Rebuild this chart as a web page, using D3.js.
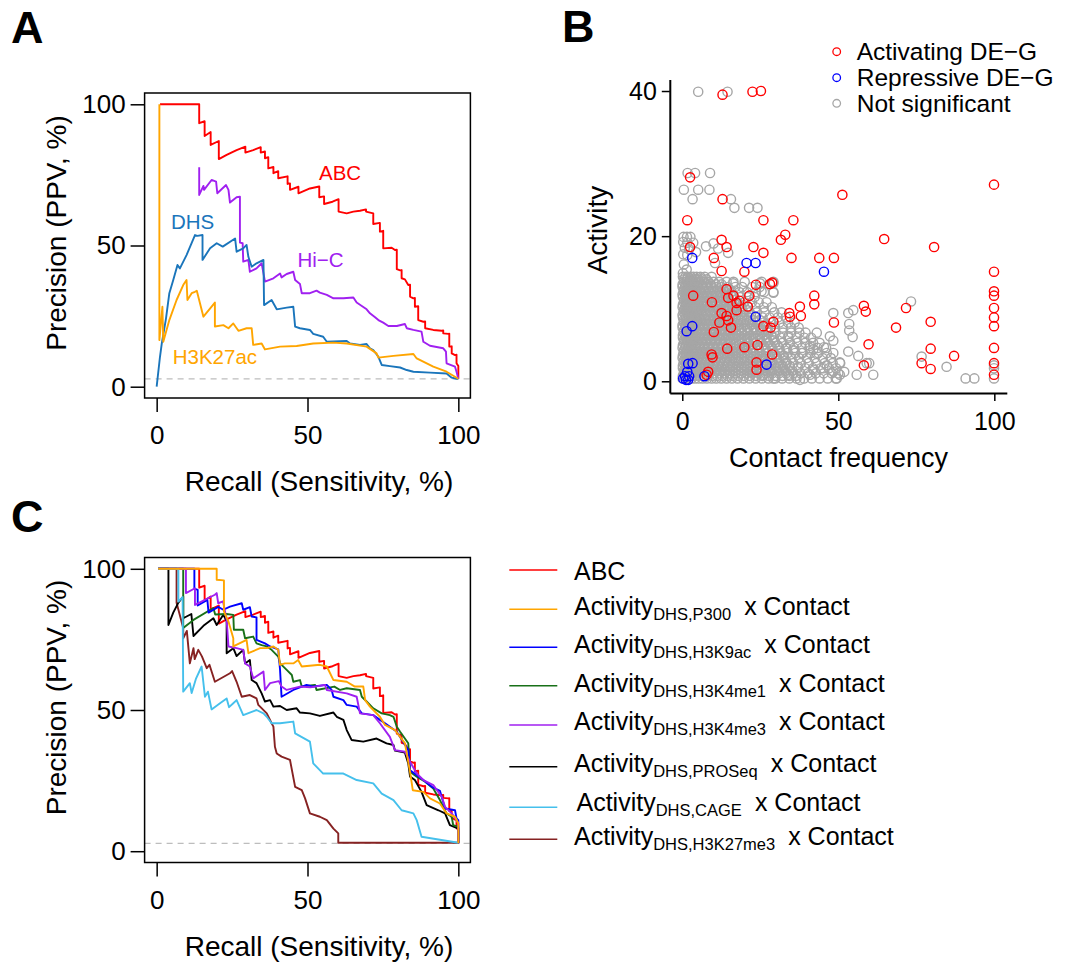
<!DOCTYPE html>
<html>
<head>
<meta charset="utf-8">
<script src="https://cdn.jsdelivr.net/npm/d3@7"></script>
<style>
  body { margin: 0; background: #fff; }
  svg { display: block; }
</style>
</head>
<body>
<svg id="fig" width="1073" height="964"></svg>
<script>
// ---------- Panel A: precision-recall curves (recall %, precision %) ----------
const abcCurve = [[1.1,100],[14.1,100],[14.1,93.3],[15.9,94.0],[15.9,88.8],[17.9,90.2],[17.9,85.6],[20.6,87.0],[20.6,80.6],[23.2,82.1],[26.5,83.8],[29.4,85.0],[29.4,82.9],[32.0,83.8],[34.5,84.8],[34.5,82.9],[35.9,83.3],[35.9,80.9],[37.0,81.3],[37.0,77.3],[38.7,77.8],[38.7,75.6],[40.3,76.3],[40.3,73.8],[43.4,74.5],[43.4,71.8],[44.2,72.0],[44.2,69.7],[47.0,70.8],[47.0,68.5],[50.8,70.2],[53.9,70.9],[53.9,67.1],[55.5,67.4],[55.5,64.7],[58.3,65.5],[60.3,66.4],[60.3,62.0],[63.0,61.4],[65.2,62.0],[67.4,62.3],[69.4,62.8],[69.4,62.0],[71.8,61.4],[71.8,57.6],[74.0,58.0],[74.0,54.9],[75.1,55.2],[75.1,49.0],[77.9,49.2],[79.0,48.4],[79.6,48.5],[79.6,41.6],[80.7,41.2],[81.2,41.3],[81.2,38.4],[82.3,38.0],[83.4,36.0],[84.0,36.1],[84.0,31.9],[85.1,31.3],[85.6,31.4],[85.6,28.3],[86.7,28.5],[86.7,23.6],[88.4,23.0],[89.0,23.1],[89.0,20.7],[91.7,20.1],[94.5,19.8],[95.0,19.9],[95.0,18.9],[96.7,18.7],[97.0,18.8],[97.0,14.2],[97.8,14.3],[97.8,11.8],[98.9,11.2],[99.4,11.3],[99.4,8.3],[100,7.3],[100,2.8]];

const hicCurve = [[14.1,77.7],[14.1,67.9],[15.5,71.1],[15.7,69.7],[18.2,73.2],[19.7,72.6],[20.1,68.5],[23.0,71.4],[23.8,69.7],[24.3,65.2],[26.5,67.1],[27.6,67.3],[27.6,51.0],[28.5,50.8],[28.7,44.3],[30.4,44.9],[30.9,40.7],[33.1,41.9],[34.8,43.7],[35.9,37.2],[38.7,38.4],[40.9,40.1],[41.4,38.7],[43.1,39.9],[45.3,40.7],[45.9,37.8],[47.5,36.4],[48.1,33.1],[50.8,33.1],[53.0,34.0],[54.1,33.3],[56.4,32.5],[58.6,31.3],[61.9,31.3],[65.2,31.6],[66.3,29.8],[68.0,28.6],[69.6,27.4],[70.7,26.0],[72.4,24.6],[73.5,23.6],[75.1,22.7],[76.8,21.5],[79.6,21.5],[82.3,22.2],[82.9,20.7],[85.1,20.1],[87.8,19.5],[88.4,15.9],[90.6,14.5],[95.0,13.6],[95.9,12.4],[96.1,8.3],[98.9,7.1],[99.4,5.3],[100,2.8]];

const dhsCurve = [[0,0],[1.1,10.6],[1.7,15.3],[3.1,24.2],[4.2,33.1],[5.5,37.8],[6.9,43.1],[7.7,41.9],[9.9,46.6],[12.7,53.7],[13.5,53.4],[15.2,53.7],[15.2,44.9],[17.7,49.0],[19.9,50.8],[21.9,49.6],[26.0,52.5],[26.5,47.8],[28.7,49.0],[29.8,50.2],[30.4,46.0],[31.5,42.5],[33.1,43.7],[35.4,44.9],[35.6,28.9],[38.1,30.7],[39.8,27.4],[43.1,28.0],[45.3,28.3],[45.9,21.3],[47.5,20.7],[50.8,20.1],[51.9,18.7],[55.2,17.7],[56.4,15.9],[63.0,16.2],[64.1,15.3],[67.4,14.8],[69.6,15.1],[70.7,13.6],[71.8,13.0],[73.5,10.6],[74.6,7.7],[77.3,7.3],[80.7,6.8],[82.9,5.9],[85.1,5.3],[90.6,5.0],[96.1,4.7],[97.8,3.2],[99.4,2.8],[100,2.8]];

const h3k27acCurve = [[0.9,100],[0.9,16.5],[1.9,28.3],[2.2,15.9],[4.2,23.6],[6.6,30.7],[8.8,36.0],[9.9,37.8],[10.2,30.7],[11.6,33.1],[12.7,33.6],[13.3,34.0],[15.5,24.8],[19.3,29.8],[19.3,21.3],[22.1,21.8],[23.8,20.7],[25.4,22.4],[27.1,19.8],[29.8,20.7],[31.5,20.7],[32.0,14.8],[34.8,15.3],[35.9,13.2],[40.9,14.2],[46.4,14.4],[51.9,15.3],[58.6,15.6],[63.0,15.3],[69.6,14.2],[72.9,11.8],[73.5,10.3],[78.5,10.9],[85.1,11.6],[86.2,10.0],[91.7,7.1],[96.1,5.3],[100,2.8]];

// ---------- Panel C: activity variants x contact ----------
const p300Curve = [[0.5,100],[19.9,100],[19.9,96.1],[22.3,95.9],[22.3,84.9],[23.8,81.3],[25.4,75.4],[25.4,72.5],[29.8,74.8],[30.4,70.1],[34.3,71.9],[36.5,71.9],[38.7,72.5],[40.3,71.3],[40.9,66.0],[42.5,66.5],[45.3,66.5],[46.9,67.7],[48.1,65.4],[54.1,66.0],[56.4,65.4],[58.6,60.6],[63.0,60.0],[65.7,58.3],[68.5,58.3],[69.1,53.5],[70.7,51.2],[74.0,47.6],[75.7,44.7],[79.0,42.9],[80.7,40.5],[82.3,38.2],[84.0,28.1],[84.9,21.6],[88.4,21.0],[90.6,18.7],[93.9,16.9],[96.1,13.4],[98.9,12.2],[100,9.8],[100,2.8]];

const h3k9acCurve = [[0.5,100],[12.5,100],[12.5,93.0],[13.6,92.5],[13.6,87.0],[16.8,89.0],[17.2,84.5],[20.4,86.5],[22.1,85.5],[24.3,86.6],[28.2,87.8],[28.7,85.5],[30.9,86.4],[31.5,83.1],[33.1,82.8],[33.1,74.8],[35.9,73.6],[37.6,72.5],[40.3,71.5],[40.9,64.2],[41.4,54.7],[45.3,57.1],[49.7,58.9],[51.9,58.3],[56.4,58.9],[58.0,57.1],[58.6,54.7],[61.9,53.5],[63.0,51.8],[66.3,51.2],[68.0,48.8],[71.8,48.2],[74.0,46.5],[75.7,45.3],[79.6,42.3],[83.4,35.8],[84.0,28.7],[88.4,25.2],[91.2,22.8],[93.9,21.4],[95.6,15.1],[98.9,14.5],[99.4,11.6],[100,11.0],[100,2.8]];

const h3k4me1Curve = [[0.5,100],[8.8,100],[8.8,79.0],[12.2,81.9],[18.8,86.1],[19.4,83.8],[23.2,84.0],[25.4,83.7],[25.6,78.4],[28.7,78.4],[29.3,75.4],[32.0,76.0],[33.1,73.6],[34.8,73.0],[36.5,72.5],[38.1,71.3],[40.3,68.9],[40.9,66.5],[43.1,64.2],[44.8,62.4],[45.3,60.0],[47.5,60.6],[48.1,58.3],[52.5,58.9],[53.0,57.1],[58.9,58.3],[60.8,57.1],[63.0,57.7],[67.4,57.1],[68.0,54.7],[69.6,53.0],[71.8,50.6],[74.6,48.8],[77.3,48.2],[78.5,47.6],[79.6,44.1],[80.7,42.3],[83.4,38.2],[84.0,28.1],[86.2,26.4],[89.0,24.6],[91.7,22.2],[93.9,18.1],[96.1,13.4],[97.8,12.2],[98.3,9.2],[100,8.6],[100,2.8]];

const h3k4me3Curve = [[0.5,100],[9.7,100],[9.7,91.4],[12.7,93.1],[12.7,87.2],[19.3,90.8],[19.9,91.4],[20.4,87.8],[22.0,88.5],[23.2,81.9],[23.8,72.5],[26.5,71.9],[28.7,71.3],[29.3,66.5],[30.9,65.4],[32.0,61.2],[35.4,63.6],[35.9,57.1],[37.6,59.5],[40.5,60.2],[41.4,58.3],[43.1,57.1],[47.5,58.3],[51.0,58.0],[55.8,58.9],[56.4,57.1],[63.0,55.9],[66.3,54.7],[67.4,48.8],[71.8,48.2],[74.0,45.3],[77.3,40.5],[79.0,35.8],[82.3,35.2],[84.0,31.7],[86.2,27.5],[88.4,25.2],[91.7,23.4],[94.5,19.3],[95.6,15.7],[97.8,13.4],[99.4,11.0],[100,9.8],[100,2.8]];

const proseqCurve = [[0.5,100],[3.9,100],[3.9,80.1],[5.5,84.5],[7.2,88.0],[8.8,90.2],[8.8,82.5],[11.5,84.0],[12.2,76.2],[15.5,79.8],[18.8,82.5],[19.9,80.1],[22.1,83.7],[23.2,81.5],[23.2,70.1],[25.4,71.9],[26.5,69.1],[28.7,71.3],[29.3,66.5],[30.9,67.7],[31.5,60.6],[33.1,59.5],[34.8,55.9],[35.9,53.0],[37.6,53.5],[38.7,51.2],[40.9,51.4],[43.1,50.0],[46.4,50.6],[47.5,49.1],[50.8,48.8],[54.1,47.9],[58.6,49.1],[59.7,47.6],[61.9,46.5],[63.0,42.9],[64.6,39.4],[68.5,38.8],[72.9,39.9],[76.2,38.2],[78.5,37.6],[79.0,35.6],[82.3,34.9],[83.4,31.1],[84.0,26.4],[85.6,25.2],[87.8,21.0],[89.5,16.3],[93.4,14.5],[95.6,13.4],[97.2,9.2],[100,8.0],[100,2.8]];

const cageCurve = [[0.5,100],[7.2,100],[7.2,88.4],[8.6,90.0],[8.8,56.5],[11.0,59.5],[11.6,56.0],[13.0,61.0],[14.9,65.4],[16.0,54.7],[17.0,56.5],[18.2,50.2],[21.0,52.4],[23.2,54.1],[24.0,51.0],[25.4,52.4],[26.5,53.5],[28.7,48.2],[33.1,50.0],[35.4,48.8],[36.5,47.6],[38.1,45.3],[40.9,45.3],[45.3,45.9],[45.9,41.7],[50.8,38.8],[51.9,31.1],[55.2,27.5],[61.9,27.5],[66.3,25.2],[71.8,24.0],[74.6,20.4],[78.5,18.1],[81.2,14.5],[85.1,13.4],[86.2,11.0],[87.8,5.1],[100,3.0]];

const h3k27me3Curve = [[0.5,100],[6.6,100],[6.6,88.0],[8.8,79.0],[8.8,75.4],[10.0,78.0],[11.0,66.5],[12.2,71.9],[12.6,68.0],[13.8,71.3],[15.0,69.0],[16.6,64.8],[17.5,66.0],[19.3,60.0],[24.3,63.0],[25.0,63.8],[26.5,60.0],[28.2,54.7],[30.9,55.3],[33.1,54.1],[33.7,51.8],[36.5,48.8],[38.1,45.3],[38.7,44.1],[39.2,37.0],[39.8,34.6],[41.4,33.5],[44.2,32.3],[45.9,22.8],[48.1,21.6],[49.2,18.7],[50.8,13.4],[54.1,12.2],[56.4,11.0],[58.6,8.0],[60.2,6.3],[60.2,3.0],[100,3.0]];

const baselinePrecision = 2.8;
const prTicks = [0, 50, 100];

// ---------- Panel B: activity vs contact frequency ----------
const activating = [[12.9,39.5],[22.5,39.9],[25.2,40.0],[2.5,28.1],[12.9,25.1],[1.6,22.2],[26.0,22.2],[35.6,22.2],[51.3,25.7],[99.9,27.1],[12.6,19.5],[14.2,18.5],[2.5,18.5],[22.8,18.5],[26.0,17.7],[31.6,19.5],[33.0,20.2],[10.1,17.0],[35.0,17.0],[43.9,17.0],[48.6,17.0],[64.7,19.6],[80.7,18.5],[12.6,15.2],[19.9,15.1],[99.9,15.1],[3.5,11.8],[14.2,12.7],[9.5,10.9],[14.7,11.5],[16.4,11.8],[17.4,10.8],[18.3,11.1],[21.5,11.8],[21.0,10.3],[23.6,13.3],[28.1,13.4],[28.8,13.6],[12.6,9.4],[14.2,9.0],[14.7,8.4],[11.9,8.1],[10.1,6.8],[15.6,7.4],[17.4,9.8],[26.0,7.6],[28.3,7.4],[29.2,8.2],[34.3,9.4],[34.5,8.9],[37.7,10.3],[38.0,9.0],[42.3,11.8],[42.3,10.6],[48.6,8.1],[58.2,10.4],[58.8,9.6],[59.7,5.1],[71.7,10.1],[68.5,7.4],[79.6,8.2],[79.6,4.5],[76.7,2.5],[79.6,1.7],[87.1,3.5],[58.2,2.2],[99.9,12.4],[99.9,11.8],[99.9,10.1],[99.9,8.8],[99.9,7.6],[99.9,4.6],[99.9,2.5],[99.9,0.9],[14.4,4.5],[19.9,4.7],[24.1,5.0],[28.8,3.7],[9.4,3.7],[9.7,3.3],[23.8,2.6],[23.8,1.6],[8.3,1.3],[7.8,0.9]];

const repressive = [[3.2,17.0],[20.6,16.3],[23.5,16.3],[45.4,15.1],[23.5,8.9],[3.2,7.6],[1.4,6.9],[1.9,2.4],[3.3,2.5],[27.0,2.3],[7.1,0.7],[0.3,0.4],[1.2,0.2],[1.9,0.2],[2.2,0.7],[0.9,0.7],[1.6,1.3]];

// dense non-significant cloud, listed row by row: [activity, contact values]
const notSigRows = [
  [14.4,[0.2,1.0,1.8,2.7,3.6,4.6,5.8,7.2,9.4]],
  [14.05,[0.6,1.5,2.4,3.3,4.2,5.2,6.4,7.8]],
  [13.7,[0.5,1.4,2.3,3.2,4.3,5.5,6.9,8.4,10.0,11.8,14.2,16.4,20.0,25.4,29.2]],
  [13.35,[0.1,1.0,1.9,2.8,3.8,4.9,6.2,7.6,9.1,10.8,12.6]],
  [13.0,[0.1,0.9,1.8,2.8,3.9,5.1,6.4,7.8,9.3,10.9,12.6,14.6,17.0,19.2,22.4,24.8]],
  [12.65,[0.5,1.4,2.4,3.4,4.5,5.7,7.0,8.4,9.9,11.5,13.2,15.0]],
  [12.3,[0.4,1.3,2.3,3.4,4.6,5.9,7.3,8.8,10.4,12.1,13.9,15.8,18.3,20.7,23.6,26.2,29.2]],
  [11.95,[0.1,1.0,1.9,2.9,4.0,5.2,6.5,7.9,9.4,11.0,12.6,14.4,16.2]],
  [11.6,[0.2,1.0,2.0,3.0,4.1,5.3,6.6,8.0,9.5,11.1,12.8,14.6,16.5,18.6,21.0,23.2]],
  [11.25,[0.6,1.5,2.5,3.5,4.6,5.8,7.1,8.5,10.0,11.6,13.2,15.0,16.9]],
  [10.9,[0.5,1.5,2.5,3.6,4.8,6.1,7.5,9.0,10.6,12.2,13.9,15.8,17.8,19.9,22.3,24.5,27.0]],
  [10.55,[0.2,1.1,2.0,3.0,4.1,5.3,6.6,8.0,9.5,11.1,12.7,14.4,16.2,18.1]],
  [10.2,[0.1,1.0,2.0,3.1,4.3,5.6,7.0,8.5,10.0,11.6,13.3,15.1,17.0,19.0,21.1,23.5,26.1,28.7]],
  [9.85,[0.6,1.5,2.5,3.6,4.7,5.9,7.2,8.6,10.1,11.7,13.3,15.0,16.8,18.7,20.5]],
  [9.5,[0.4,1.4,2.4,3.5,4.7,6.0,7.4,8.9,10.5,12.1,13.8,15.6,17.5,19.5,21.6,23.9,26.3,29.5,31.8]],
  [9.15,[0.1,1.0,2.0,3.0,4.1,5.3,6.6,8.0,9.5,11.0,12.6,14.3,16.1,18.0,19.9,22.0]],
  [8.8,[0.2,1.1,2.1,3.2,4.4,5.7,7.1,8.6,10.1,11.7,13.4,15.2,17.1,19.1,21.2,23.4,25.7,28.0,30.6,33.2]],
  [8.45,[0.5,1.5,2.5,3.6,4.8,6.0,7.3,8.7,10.2,11.8,13.4,15.1,16.9,18.8,20.7,22.7,24.8]],
  [8.1,[0.5,1.5,2.5,3.6,4.8,6.1,7.5,9.0,10.6,12.2,13.9,15.7,17.6,19.6,21.7,23.9,26.2,28.6,31.1,33.9,36.0]],
  [7.75,[0.1,1.0,2.0,3.1,4.2,5.4,6.7,8.1,9.6,11.2,12.8,14.5,16.3,18.2,20.1,22.1,24.2,26.4]],
  [7.4,[0.1,1.0,2.0,3.1,4.3,5.6,7.0,8.4,9.9,11.5,13.2,15.0,16.9,18.8,20.8,22.9,25.1,27.4,29.7,32.2,34.8,37.3]],
  [7.05,[0.6,1.6,2.6,3.7,4.9,6.2,7.5,8.9,10.4,12.0,13.6,15.3,17.1,19.0,20.9,22.9,25.0,27.2]],
  [6.7,[0.4,1.4,2.4,3.5,4.7,6.0,7.4,8.9,10.4,12.0,13.7,15.4,17.2,19.1,21.1,23.2,25.4,27.6,29.9,32.3,34.9,37.5,39.5]],
  [6.35,[0.2,1.1,2.1,3.2,4.3,5.5,6.8,8.2,9.7,11.3,12.9,14.6,16.4,18.2,20.1,22.1,24.2,26.3,28.5]],
  [6.0,[0.2,1.1,2.1,3.2,4.4,5.7,7.1,8.5,10.0,11.6,13.3,15.0,16.8,18.7,20.7,22.7,24.8,27.0,29.3,31.6,34.0,36.6,39.1,41.3]],
  [5.65,[0.6,1.6,2.6,3.7,4.9,6.2,7.6,9.0,10.5,12.1,13.7,15.4,17.2,19.0,20.9,22.9,25.0,27.1,29.3]],
  [5.3,[0.5,1.5,2.5,3.6,4.8,6.1,7.5,9.0,10.5,12.1,13.8,15.5,17.3,19.2,21.2,23.2,25.3,27.5,29.8,32.1,34.5,36.9,39.4,41.9,44.0]],
  [4.95,[0.2,1.1,2.1,3.2,4.4,5.6,6.9,8.3,9.8,11.3,12.9,14.6,16.4,18.2,20.1,22.0,24.0,26.1,28.3,30.5]],
  [4.6,[0.1,1.0,2.0,3.1,4.3,5.6,7.0,8.4,9.9,11.5,13.1,14.8,16.6,18.5,20.4,22.4,24.5,26.6,28.8,31.1,33.4,35.8,38.3,40.8,43.3,46.1]],
  [4.25,[0.6,1.6,2.6,3.7,4.9,6.2,7.6,9.0,10.5,12.1,13.7,15.4,17.1,18.9,20.8,22.7,24.7,26.8,29.0,31.2]],
  [3.9,[0.4,1.4,2.4,3.5,4.7,6.0,7.4,8.8,10.3,11.9,13.5,15.2,17.0,18.9,20.8,22.8,24.9,27.0,29.2,31.5,33.8,36.2,38.6,41.1,43.6,46.3,48.4]],
  [3.55,[0.2,1.1,2.1,3.2,4.4,5.7,7.0,8.4,9.9,11.4,13.0,14.7,16.4,18.2,20.1,22.0,24.0,26.0,28.1,30.3,32.5]],
  [3.2,[0.1,1.0,2.0,3.0,4.1,5.3,6.6,8.0,9.5,11.0,12.6,14.3,16.1,17.9,19.8,21.8,23.8,25.9,28.1,30.3,32.6,35.0,37.4,39.9,42.4,45.0,47.6]],
  [2.85,[0.6,1.6,2.6,3.7,4.9,6.2,7.6,9.0,10.5,12.1,13.7,15.4,17.1,18.9,20.8,22.7,24.7,26.7,28.8,31.0,33.2]],
  [2.5,[0.4,1.3,2.3,3.4,4.6,5.9,7.2,8.6,10.1,11.7,13.3,15.0,16.8,18.6,20.5,22.5,24.5,26.6,28.8,31.0,33.3,35.6,38.0,40.5,43.0,45.6,48.2,50.6]],
  [2.15,[0.2,1.1,2.1,3.2,4.4,5.6,6.9,8.3,9.8,11.3,12.9,14.6,16.3,18.1,19.9,21.8,23.8,25.8,27.9,30.0,32.2,34.4]],
  [1.8,[0.2,1.1,2.1,3.1,4.3,5.5,6.8,8.2,9.7,11.2,12.8,14.5,16.2,18.0,19.9,21.8,23.8,25.8,27.9,30.1,32.3,34.6,37.0,39.4,41.9,44.4,47.0,49.3]],
  [1.45,[0.6,1.5,2.5,3.6,4.8,6.1,7.5,8.9,10.4,12.0,13.6,15.3,17.0,18.8,20.7,22.6,24.6,26.6,28.7,30.9,33.1,35.3]],
  [1.1,[0.5,1.5,2.5,3.6,4.8,6.1,7.4,8.8,10.3,11.9,13.5,15.2,17.0,18.8,20.7,22.6,24.6,26.7,28.8,31.0,33.2,35.5,37.9,40.3,42.8,45.3,47.9,50.0]],
  [0.75,[0.2,1.1,2.1,3.2,4.3,5.5,6.8,8.2,9.7,11.2,12.8,14.5,16.2,18.0,19.8,21.7,23.7,25.7,27.8,29.9,32.1,34.3,36.5]],
  [0.4,[0.1,1.0,1.9,2.9,4.0,5.2,6.5,7.9,9.4,10.9,12.5,14.2,15.9,17.7,19.6,21.5,23.5,25.5,27.6,29.8,32.0,34.3,36.6,39.0,41.5,44.0,46.6,49.2]]
];

// scattered non-significant pairs outside the cloud: [contact, activity]
const notSigScattered = [[5.1,39.9],[14.5,39.9],[1.7,28.7],[4.1,28.7],[8.9,28.7],[0.5,26.4],[5.1,26.4],[8.7,26.4],[3.3,25.1],[15.6,25.1],[16.7,23.9],[21.4,23.9],[24.1,23.9],[0.4,19.9],[1.5,19.9],[2.6,19.9],[0.3,19.2],[1.6,19.1],[3.5,19.1],[0.8,18.4],[2.2,18.2],[0.3,17.5],[1.6,17.4],[4.4,17.8],[0.5,16.1],[1.4,15.4],[0.2,14.9],[7.6,18.6],[10.0,19.0],[11.5,18.3],[14.7,17.7],[10.5,16.3],[24.9,13.5],[29.2,12.2],[29.2,13.5],[25.4,12.4],[16.3,13.5],[48.4,9.4],[53.2,9.4],[54.8,9.8],[53.5,7.9],[53.5,7.0],[54.6,6.1],[73.3,11.0],[47.3,6.2],[48.4,5.6],[43.1,6.7],[40.9,4.9],[42.0,4.4],[34.0,6.2],[33.4,4.5],[35.6,4.3],[38.2,3.9],[43.1,3.8],[45.4,4.7],[53.2,4.1],[56.4,3.5],[59.1,2.5],[59.9,2.5],[61.2,0.9],[55.9,0.9],[51.9,1.3],[50.5,0.9],[49.5,0.4],[37.7,0.2],[76.7,3.4],[84.7,2.0],[90.8,0.4],[93.6,0.4],[99.9,0.4],[99.9,1.8],[99.9,2.2],[31.3,2.0],[33.4,2.5],[37.2,2.0],[42.0,1.6],[45.2,1.8],[46.3,2.2],[50.5,2.6],[48.4,1.3],[40.9,0.9],[34.0,0.9],[29.2,0.4],[26.0,0.9],[22.2,1.3]];

const bTicksX = [0, 50, 100];
const bTicksY = [0, 20, 40];
const bLegend = [
  { label: "Activating DE\u2212G", color: "#ff0000" },
  { label: "Repressive DE\u2212G", color: "#0000ff" },
  { label: "Not significant", color: "#a6a6a6" }
];

// ---------- series styling ----------
const panelASeries = [
  { data: abcCurve, color: "#ff0000" },
  { data: hicCurve, color: "#a020f0" },
  { data: dhsCurve, color: "#1a75bb" },
  { data: h3k27acCurve, color: "#ffa500" }
];
// curve labels placed in data units (text baseline)
const panelALabels = [
  { text: "ABC", x: 60.8, y: 73.2, color: "#ff0000" },
  { text: "DHS", x: 11.9, y: 55.8, color: "#1a75bb" },
  { text: "Hi\u2212C", x: 54.3, y: 42.5, color: "#a020f0" },
  { text: "H3K27ac", x: 19.3, y: 7.9, color: "#ffa500" }
];

const panelCSeries = [
  { name: "ABC", sub: null, data: abcCurve, color: "#ff0000" },
  { name: "Activity", sub: "DHS,P300", data: p300Curve, color: "#ffa500" },
  { name: "Activity", sub: "DHS,H3K9ac", data: h3k9acCurve, color: "#0000ff" },
  { name: "Activity", sub: "DHS,H3K4me1", data: h3k4me1Curve, color: "#187018" },
  { name: "Activity", sub: "DHS,H3K4me3", data: h3k4me3Curve, color: "#a020f0" },
  { name: "Activity", sub: "DHS,PROSeq", data: proseqCurve, color: "#000000" },
  { name: "Activity", sub: "DHS,CAGE", data: cageCurve, color: "#45c0ec" },
  { name: "Activity", sub: "DHS,H3K27me3", data: h3k27me3Curve, color: "#862222" }
];
const drawOrderC = [0, 7, 5, 3, 2, 4, 6, 1];

// ---------- drawing ----------
const FONT = '"Liberation Sans", Arial, Helvetica, sans-serif';
const svg = d3.select("#fig").attr("font-family", FONT);
svg.append("rect").attr("width", 1073).attr("height", 964).attr("fill", "#fff");

function styleAxis(g, size) {
  g.attr("font-size", size).attr("font-family", FONT);
  g.selectAll(".tick line").attr("stroke", "#000").attr("stroke-width", 1.5);
  g.selectAll(".tick text").attr("fill", "#000");
}

function prPanel(dy, series, order) {
  const x = d3.scaleLinear().domain([-4, 104]).range([144.6, 470.4]);
  const y = d3.scaleLinear().domain([-4, 104]).range([398 + dy, 93 + dy]);
  const g = svg.append("g");

  const ax = g.append("g").attr("transform", `translate(0,${y(-4)})`)
    .call(d3.axisBottom(x).tickValues(prTicks).tickSize(14).tickPadding(14).tickSizeOuter(0));
  ax.select(".domain").remove();
  styleAxis(ax, 26);

  const ay = g.append("g").attr("transform", `translate(${x(-4)},0)`)
    .call(d3.axisLeft(y).tickValues(prTicks).tickSize(14).tickPadding(5).tickSizeOuter(0));
  ay.select(".domain").remove();
  styleAxis(ay, 26);

  g.append("line")
    .attr("x1", x(-4)).attr("x2", x(104))
    .attr("y1", y(baselinePrecision)).attr("y2", y(baselinePrecision))
    .attr("stroke", "#bdbdbd").attr("stroke-width", 1.3).attr("stroke-dasharray", "6,5");

  const line = d3.line().x(d => x(d[0])).y(d => y(d[1]));
  order.forEach(i => {
    g.append("path").datum(series[i].data)
      .attr("d", line).attr("fill", "none")
      .attr("stroke", series[i].color).attr("stroke-width", 1.9)
      .attr("stroke-linejoin", "round");
  });

  g.append("rect")
    .attr("x", x(-4)).attr("y", y(104))
    .attr("width", x(104) - x(-4)).attr("height", y(-4) - y(104))
    .attr("fill", "none").attr("stroke", "#000").attr("stroke-width", 1.5);

  g.append("text").attr("transform", `translate(66,${233 + dy}) rotate(-90)`)
    .attr("text-anchor", "middle").attr("font-size", 28).text("Precision (PPV, %)");
  g.append("text").attr("x", 319).attr("y", 491 + dy)
    .attr("text-anchor", "middle").attr("font-size", 28).text("Recall (Sensitivity, %)");
  return { x, y, g };
}

// Panel A
const pa = prPanel(0, panelASeries, [0, 1, 2, 3]);
panelALabels.forEach(l => {
  pa.g.append("text").attr("x", pa.x(l.x)).attr("y", pa.y(l.y))
    .attr("text-anchor", "middle").attr("font-size", 20.5)
    .attr("fill", l.color).text(l.text);
});

// Panel C
prPanel(464.5, panelCSeries, drawOrderC);

// Panel C legend
const legendC = svg.append("g");
const legendRowsY = [570, 609.3, 647.3, 685.7, 725, 766.7, 807.3, 839.3];
const legendTextY = [580, 615, 653.3, 691.7, 730, 771.7, 810.7, 845];
panelCSeries.forEach((s, i) => {
  legendC.append("line").attr("x1", 509.3).attr("x2", 557.3)
    .attr("y1", legendRowsY[i]).attr("y2", legendRowsY[i])
    .attr("stroke", s.color).attr("stroke-width", 1.6);
  const t = legendC.append("text")
    .attr("x", s.sub === "DHS,CAGE" ? 576.5 : 574)
    .attr("y", legendTextY[i]).attr("font-size", 25).attr("fill", "#000");
  t.append("tspan").text(s.name);
  if (s.sub) {
    t.append("tspan").attr("font-size", 16.5).attr("dy", 5).text(s.sub);
    t.append("tspan").attr("dy", -5).attr("dx", 13).text("x Contact");
  }
});

// Panel B
(function () {
  const x = d3.scaleLinear().domain([-4, 104]).range([669.8, 1006.8]);
  const y = d3.scaleLinear().domain([-1.6, 41.6]).range([392.9, 79.4]);
  const g = svg.append("g");

  const notSig = notSigRows.flatMap(([a, cs]) => cs.map(c => [c, a])).concat(notSigScattered);
  const drawPts = (pts, color) => g.append("g").selectAll("circle").data(pts).join("circle")
    .attr("cx", d => x(d[0])).attr("cy", d => y(d[1])).attr("r", 4.6)
    .attr("fill", "none").attr("stroke", color).attr("stroke-width", 1.4);
  drawPts(notSig, "#a6a6a6");
  drawPts(activating, "#ff0000");
  drawPts(repressive, "#0000ff");

  const ax = g.append("g").attr("transform", `translate(0,${y(-1.6)})`)
    .call(d3.axisBottom(x).tickValues(bTicksX).tickSize(8).tickPadding(11).tickSizeOuter(0));
  ax.select(".domain").attr("stroke", "#000").attr("stroke-width", 2);
  styleAxis(ax, 25);
  const ay = g.append("g").attr("transform", `translate(${x(-4)},0)`)
    .call(d3.axisLeft(y).tickValues(bTicksY).tickSize(8).tickPadding(5).tickSizeOuter(0));
  ay.select(".domain").attr("stroke", "#000").attr("stroke-width", 2);
  styleAxis(ay, 25);

  g.append("text").attr("x", 838.5).attr("y", 466.7)
    .attr("text-anchor", "middle").attr("font-size", 27).text("Contact frequency");
  g.append("text").attr("transform", "translate(607,230) rotate(-90)")
    .attr("text-anchor", "middle").attr("font-size", 28).text("Activity");

  const lg = g.append("g");
  const rowY = [51.7, 77.7, 103.3];
  bLegend.forEach((d, i) => {
    lg.append("circle").attr("cx", 836.7).attr("cy", rowY[i]).attr("r", 3.8)
      .attr("fill", "none").attr("stroke", d.color).attr("stroke-width", 1.3);
    lg.append("text").attr("x", 856.7).attr("y", rowY[i] + 8.3)
      .attr("font-size", 24.5).text(d.label);
  });
})();

// panel letters
[["A", 11, 42.7], ["B", 562, 41.7], ["C", 11, 532]].forEach(([t, px, py]) => {
  svg.append("text").attr("x", px).attr("y", py)
    .attr("font-size", 45).attr("font-weight", "bold").text(t);
});
</script>
</body>
</html>
